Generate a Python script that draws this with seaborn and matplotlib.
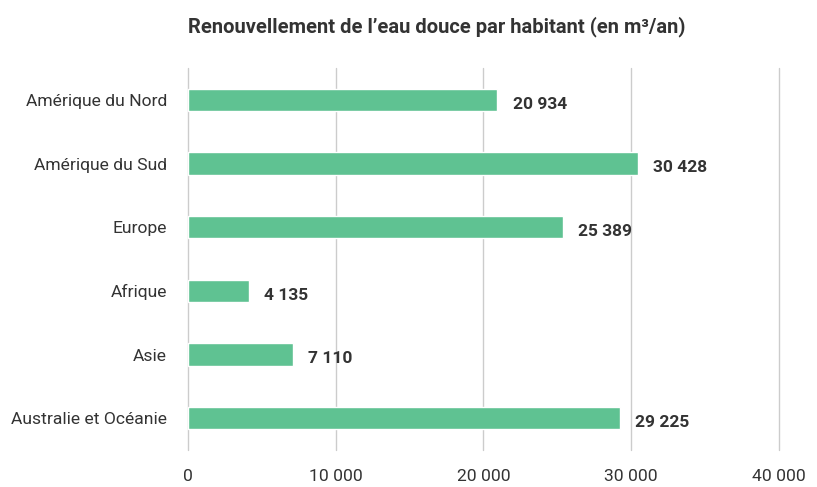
import matplotlib
matplotlib.use("Agg")
import matplotlib.pyplot as plt
import seaborn as sns
import pandas as pd

# Données (m³/an par habitant)
regions = ["Amérique du Nord", "Amérique du Sud", "Europe", "Afrique", "Asie",
           "Australie et Océanie"]
valeurs = [20934, 30428, 25389, 4135, 7110, 29225]
ticks_x = [0, 10000, 20000, 30000, 40000]

df = pd.DataFrame({"region": regions, "valeur": valeurs})

sns.set_style("white")
plt.rcParams["font.family"] = ["Roboto", "DejaVu Sans"]


def fmt(v):
    return f"{v:,}".replace(",", "\u00a0")


fig = plt.figure(figsize=(8.17, 4.87), dpi=100)
ax = fig.add_axes([0.230, 0.076, 0.7235, 0.784])

sns.barplot(data=df, x="valeur", y="region", color="#5fc292", saturation=1,
            width=0.35, ax=ax, zorder=3)

ax.set_xlim(0, 40000)
ax.set_xticks(ticks_x)
ax.set_xticklabels([fmt(t) for t in ticks_x])
ax.grid(axis="x", color="#cccccc", linewidth=1, zorder=0)
for gl in ax.get_xgridlines():
    gl.set_clip_on(False)
ax.set_axisbelow(True)
for s in ax.spines.values():
    s.set_visible(False)
ax.tick_params(axis="both", length=0, labelsize=12.6, colors="#333333")
ax.tick_params(axis="x", pad=14)
ax.tick_params(axis="y", pad=15)
ax.set_xlabel("")
ax.set_ylabel("")

# étiquettes de valeurs
for i, v in enumerate(valeurs):
    ax.annotate(fmt(v), (v, i), xytext=(11, -3), textcoords="offset points",
                ha="left", va="center", fontsize=12.5, fontweight="bold",
                color="#333333")

fig.text(0.535, 0.945,
         "Renouvellement de l\u2019eau douce par habitant (en m³/an)",
         ha="center", va="center", fontsize=14.5, fontweight="bold",
         color="#333333")

fig.savefig("out.png", dpi=100)
